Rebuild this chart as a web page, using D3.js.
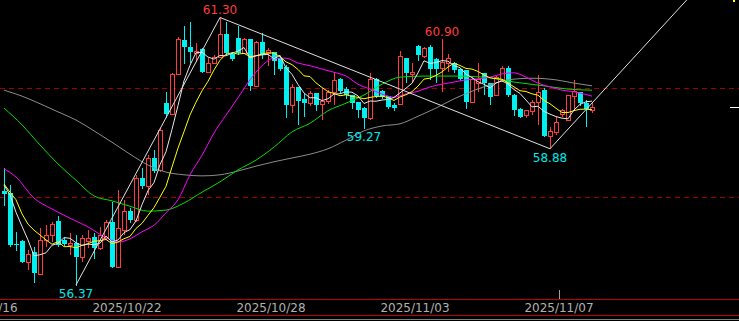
<!DOCTYPE html>
<html><head><meta charset="utf-8">
<script src="https://cdn.jsdelivr.net/npm/d3@7"></script>
<style>html,body{margin:0;padding:0;background:#000;overflow:hidden}</style>
</head><body><svg id="c" width="739" height="321"></svg>
<script>
// ---- data (4-hour candles) ----
const opens  = [58.10,58.06,57.12,57.18,56.79,56.98,56.57,57.20,57.29,57.55,57.20,57.11,57.14,56.88,57.18,57.25,57.05,57.24,57.53,56.70,
                57.38,57.73,57.57,58.34,58.19,58.71,58.49,59.72,59.52,60.26,60.88,60.76,60.65,60.72,60.29,60.46,60.57,61.00,60.63,60.92,
                60.65,60.90,60.04,60.85,60.65,60.66,60.55,60.39,59.69,60.02,59.80,59.72,59.91,59.71,59.76,59.93,60.17,59.98,59.87,59.74,
                59.63,59.45,60.17,59.94,59.85,59.69,59.71,60.55,60.26,60.77,60.59,60.76,60.53,60.37,60.46,60.46,60.35,60.33,59.74,60.09,
                60.28,60.09,59.87,60.15,60.37,59.87,59.61,59.50,59.58,59.74,59.96,59.12,59.19,59.52,59.41,59.85,59.93,59.72,59.59];
const highs  = [58.53,58.21,57.35,57.20,57.01,57.07,57.42,57.47,57.53,57.64,57.25,57.33,57.29,57.29,57.38,57.33,57.44,57.57,57.90,58.12,
                57.94,57.79,58.40,58.53,58.76,58.86,59.26,59.93,60.28,60.94,61.14,61.22,60.83,60.74,60.55,60.61,61.30,61.22,60.66,61.14,
                60.92,60.90,60.87,61.01,60.74,60.66,60.59,60.42,60.07,60.02,59.89,59.94,59.91,60.00,59.96,60.29,60.18,60.02,59.87,59.74,
                59.65,60.28,60.18,59.96,59.85,59.72,60.68,60.55,60.46,60.79,60.76,60.79,60.55,60.90,60.63,60.48,60.37,60.33,60.20,60.46,
                60.28,60.09,60.22,60.41,60.41,59.89,59.63,59.59,59.78,60.24,60.00,59.28,59.47,59.61,59.87,60.15,59.93,59.78,59.72];
const lows   = [57.84,57.09,57.01,56.79,56.65,56.42,56.55,57.07,57.16,57.09,57.11,56.92,56.37,56.79,57.05,56.87,57.01,57.20,56.70,56.68,
                57.29,57.53,57.53,58.16,58.03,58.45,58.45,59.47,59.50,60.24,60.46,60.48,60.48,60.29,60.28,60.44,60.55,60.63,60.52,60.63,
                60.63,59.96,60.02,60.55,60.41,60.26,60.33,59.47,59.54,59.34,59.48,59.67,59.59,59.41,59.71,59.69,59.91,59.82,59.63,59.47,
                59.27,59.41,59.83,59.82,59.63,59.59,59.69,60.11,60.09,60.52,60.55,60.17,60.11,59.93,60.29,60.29,60.15,59.63,59.74,59.93,
                59.89,59.71,59.85,60.11,59.85,59.50,59.47,59.45,59.50,59.32,59.12,58.88,59.13,59.47,59.39,59.59,59.69,59.30,59.54];
const closes = [58.05,57.11,57.11,56.79,56.94,56.59,57.20,57.29,57.49,57.11,57.12,57.14,56.88,57.24,57.24,57.05,57.29,57.53,56.70,57.42,
                57.73,57.57,58.34,58.19,58.71,58.47,59.23,59.52,60.26,60.90,60.76,60.66,60.68,60.29,60.46,60.57,61.00,60.65,60.53,60.65,
                60.90,60.04,60.85,60.61,60.70,60.50,60.35,59.69,60.02,59.76,59.72,59.91,59.69,59.76,59.93,60.15,59.94,59.87,59.72,59.59,
                59.45,60.17,59.85,59.83,59.65,59.63,60.59,60.28,60.29,60.61,60.74,60.35,60.35,60.48,60.55,60.33,60.17,59.74,60.17,60.17,
                60.09,59.83,60.20,60.37,59.87,59.59,59.47,59.59,59.74,59.93,59.12,59.21,59.37,59.59,59.87,59.94,59.72,59.61,59.65];

const ma5Lead  = [58.21,58.03,57.71,57.45];
const ma10Lead = [58.23,58.08,57.94,57.68,57.49,57.38,57.29,57.20,57.12];
const ma20Pts = [[0,58.51],[2,58.36],[5,57.97],[8,57.77],[11,57.60],[14,57.44],[17,57.24],[19,57.16],[21,57.22],[23,57.35],
                 [25,57.47],[27,57.70],[29,57.94],[31,58.40],[33,58.76],[35,59.17],[37,59.50],[39,59.82],[41,60.15],[43,60.41],
                 [45,60.55],[47,60.55],[49,60.46],[51,60.41],[53,60.35],[55,60.29],[57,60.22],[59,60.07],[61,59.98],[63,59.89],
                 [65,59.83],[67,59.89],[69,59.94],[71,60.02],[73,60.07],[75,60.11],[77,60.15],[79,60.17],[81,60.20],[83,60.26],
                 [85,60.28],[87,60.20],[89,60.09],[91,60.02],[93,59.96],[95,59.93],[98,59.85]];
const ma40Pts = [[0,59.63],[3,59.32],[6,58.95],[9,58.60],[12,58.30],[15,58.01],[18,57.92],[21,57.82],[24,57.73],[27,57.75],
                 [30,57.88],[33,58.08],[36,58.27],[39,58.49],[42,58.67],[45,58.91],[48,59.19],[51,59.35],[54,59.58],[57,59.72],
                 [60,59.87],[63,60.07],[66,60.20],[70,60.22],[75,60.22],[80,60.20],[85,60.11],[90,60.04],[94,59.98],[98,59.96]];
const ma60Pts = [[0,59.96],[3,59.85],[6,59.71],[9,59.56],[12,59.41],[15,59.21],[18,59.00],[21,58.78],[24,58.58],[27,58.45],
                 [30,58.40],[33,58.38],[36,58.40],[39,58.47],[42,58.56],[45,58.64],[48,58.71],[51,58.78],[54,58.88],[57,59.04],
                 [60,59.21],[63,59.30],[66,59.34],[69,59.48],[72,59.63],[75,59.80],[78,59.94],[81,60.06],[84,60.15],[88,60.18],
                 [92,60.15],[95,60.09],[98,60.04]];

const dateLabels = ["2025/10/16","2025/10/22","2025/10/28","2025/11/03","2025/11/07"];
const dateStartIdx = [-3,21,45,69,93];
const refLevels = [60,58];
const zigzag = [[12,56.37],[36,61.30],[91,58.88],[120,62.37]];
const extremes = [[36,61.30,"high"],[12,56.37,"low"],[60,59.27,"low"],[73,60.90,"high"],[91,58.88,"low"]];

// ---- drawing ----
const W=739,H=321, plotBottom=298;
const svg=d3.select("#c");
svg.append("rect").attr("width",W).attr("height",H).attr("fill","#000");
const x=d3.scaleLinear().domain([0,98]).range([4,592]);
const y=d3.scaleLinear().domain([58,60]).range([196.5,88]);
const px=v=>Math.round(x(v))+0.5;
const py=v=>Math.round(y(v));

svg.append("defs").append("clipPath").attr("id","clip").append("rect").attr("x",0).attr("y",0).attr("width",W).attr("height",plotBottom);
const g=svg.append("g").attr("clip-path","url(#clip)");

// reference dashed lines
g.selectAll("line.ref").data(refLevels).join("line").attr("class","ref")
 .attr("x1",0).attr("x2",W).attr("y1",d=>py(d)+0.5).attr("y2",d=>py(d)+0.5)
 .attr("stroke","#a00000").attr("stroke-width",1).attr("stroke-dasharray","5,4");

// candles
const data=opens.map((o,i)=>({i,o,h:highs[i],l:lows[i],c:closes[i]}));
const cg=g.append("g");
data.forEach(d=>{
  const cx=px(d.i);
  const up=d.c>=d.o;
  const top=py(Math.max(d.o,d.c)), bot=py(Math.min(d.o,d.c));
  const hy=py(d.h), ly=py(d.l);
  if(up){
    const col="#ff3c3c";
    if(hy<top) cg.append("line").attr("x1",cx).attr("x2",cx).attr("y1",hy).attr("y2",top).attr("stroke",col);
    if(ly>bot) cg.append("line").attr("x1",cx).attr("x2",cx).attr("y1",bot).attr("y2",ly).attr("stroke",col);
    cg.append("rect").attr("x",cx-2).attr("y",top+0.5).attr("width",4).attr("height",Math.max(bot-top,1))
      .attr("fill","#000").attr("stroke",col).attr("stroke-width",1);
  } else {
    const col="#00f0f0";
    cg.append("line").attr("x1",cx).attr("x2",cx).attr("y1",hy).attr("y2",ly+1).attr("stroke",col);
    cg.append("rect").attr("x",cx-2.5).attr("y",top).attr("width",5).attr("height",Math.max(bot-top,1)).attr("fill",col);
  }
});

// moving averages
function sma(n,lead){
  return closes.map((c,i)=>{
    if(i<n-1) return lead[i];
    return d3.mean(closes.slice(i-n+1,i+1));
  }).map((v,i)=>[i,v]);
}
const line=d3.line().x(d=>x(d[0])).y(d=>y(d[1]));
const curve=d3.line().x(d=>x(d[0])).y(d=>y(d[1])).curve(d3.curveMonotoneX);
const maDefs=[
  {pts:ma60Pts,col:"#8c8c8c",gen:curve},
  {pts:ma40Pts,col:"#00e000",gen:curve},
  {pts:ma20Pts,col:"#ff00ff",gen:curve},
  {pts:sma(10,ma10Lead),col:"#ffff00",gen:line},
  {pts:sma(5,ma5Lead),col:"#e8e8e8",gen:line}
];
g.selectAll("path.ma").data(maDefs).join("path").attr("class","ma")
 .attr("d",d=>d.gen(d.pts)).attr("fill","none").attr("stroke",d=>d.col).attr("stroke-width",1);

// zigzag trend lines
g.append("path").attr("d",line(zigzag)).attr("fill","none").attr("stroke","#e0e0e0").attr("stroke-width",1);

// extreme labels
g.selectAll("text.ext").data(extremes).join("text").attr("class","ext")
 .attr("x",d=>x(d[0])).attr("y",d=>d[2]==="high"?y(d[1])-3:y(d[1])+13)
 .attr("text-anchor","middle").attr("font-family","DejaVu Sans, sans-serif").attr("font-size",12)
 .attr("fill",d=>d[2]==="high"?"#ff3c3c":"#00e8e8").text(d=>d3.format(".2f")(d[1]));

// last price marker
svg.append("line").attr("x1",730).attr("x2",739).attr("y1",py(closes[closes.length-1])+0.5).attr("y2",py(closes[closes.length-1])+0.5).attr("stroke","#fff");
svg.append("rect").attr("x",733).attr("y",0).attr("width",2).attr("height",2).attr("fill","#ffff00");

// x axis
svg.append("line").attr("x1",0).attr("x2",W).attr("y1",299.5).attr("y2",299.5).attr("stroke","#c00000");
svg.append("line").attr("x1",0).attr("x2",W).attr("y1",315.5).attr("y2",315.5).attr("stroke","#c00000");
svg.append("line").attr("x1",0).attr("x2",W).attr("y1",319.5).attr("y2",319.5).attr("stroke","#808080");
svg.append("line").attr("x1",Math.round(x(dateStartIdx[4]-0.5))+0.5).attr("x2",Math.round(x(dateStartIdx[4]-0.5))+0.5)
  .attr("y1",290).attr("y2",299).attr("stroke","#a0a0a0");
svg.selectAll("text.date").data(dateLabels).join("text").attr("class","date")
 .attr("x",(d,k)=>x(dateStartIdx[k]-0.5)).attr("y",312).attr("text-anchor","middle")
 .attr("font-family","DejaVu Sans, sans-serif").attr("font-size",12).attr("fill","#b0b0b0").text(d=>d);
</script></body></html>
